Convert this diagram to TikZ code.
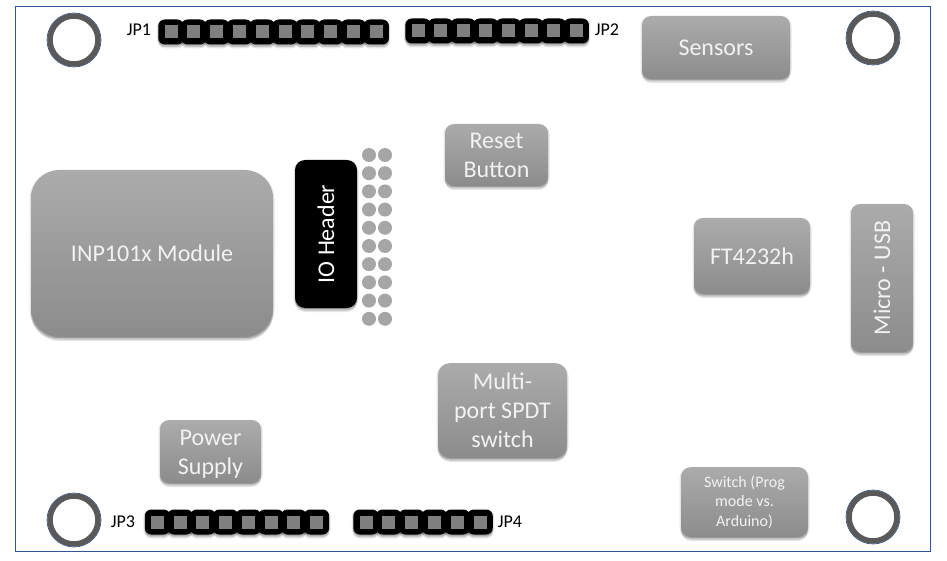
\documentclass[tikz,border=0pt]{standalone}
\usepackage{fontspec}
\usepackage{graphicx}
\setmainfont{Carlito}
\usetikzlibrary{shadows}
\definecolor{boardblue}{HTML}{2F5597}
\definecolor{holegray}{HTML}{595959}
\definecolor{boxtop}{HTML}{ABABAB}
\definecolor{boxbot}{HTML}{8C8C8C}
\definecolor{dotgray}{HTML}{A6A6A6}
\definecolor{pingray}{HTML}{7F7F7F}
\tikzset{
  softdrop/.style={
    general shadow={shadow xshift=-1.5pt, shadow yshift=-1pt, fill=black, opacity=.10},
    general shadow={shadow xshift=1.5pt, shadow yshift=-1pt, fill=black, opacity=.10},
    general shadow={shadow xshift=0pt, shadow yshift=-4pt, fill=black, opacity=.10},
    general shadow={shadow xshift=0pt, shadow yshift=-2.5pt, fill=black, opacity=.15}},
  block/.style={rounded corners=9pt, top color=boxtop, bottom color=boxbot, text=white!95!black,
    align=center, inner sep=0pt, font=\fontsize{24}{29}\selectfont, softdrop},
  padbox/.style={fill=black, rounded corners=6.5pt, minimum width=25.5pt, minimum height=25pt, inner sep=0pt, softdrop},
  pinbox/.style={fill=pingray, minimum size=13pt, inner sep=0pt},
  hole/.style={circle, draw=holegray, line width=5.5pt, fill=white, minimum size=48pt, inner sep=0pt},
  rim/.style={circle, draw=boardblue, line width=.7pt, minimum size=54pt, inner sep=0pt},
  dot/.style={circle, fill=dotgray, minimum size=14pt, inner sep=0pt},
  jplabel/.style={font=\fontsize{18}{20}\selectfont, inner sep=0pt}
}
\begin{document}
\begin{tikzpicture}[x=1pt, y=-1pt]
  \useasboundingbox (0,0) rectangle (947,561);

  \node[draw=boardblue, line width=1pt, minimum width=915pt, minimum height=544pt, inner sep=0pt] (board) at (472.5,279) {};

  % mounting holes
  \foreach \name/\X/\Y in {hnw/74/40, hne/873/38, hsw/74/520, hse/873/517} {
    \node[rim] (\name r) at (\X,\Y) {};
    \node[hole] (\name) at (\X,\Y) {};
  }

  % headers
  \foreach \i in {0,...,9} {
    \node[padbox] (ja\i) at (171+22.8*\i,32) {};
  }
  \foreach \i in {0,...,9} {
    \node[pinbox] (pa\i) at (ja\i) {};
  }
  \foreach \i in {0,...,7} {
    \node[padbox] (jb\i) at (418+22.6*\i,31) {};
  }
  \foreach \i in {0,...,7} {
    \node[pinbox] (pb\i) at (jb\i) {};
  }
  \foreach \i in {0,...,7} {
    \node[padbox] (jc\i) at (157.5+22.7*\i,522) {};
  }
  \foreach \i in {0,...,7} {
    \node[pinbox] (pc\i) at (jc\i) {};
  }
  \foreach \i in {0,...,5} {
    \node[padbox] (jd\i) at (366+22.8*\i,522) {};
  }
  \foreach \i in {0,...,5} {
    \node[pinbox] (pd\i) at (jd\i) {};
  }

  \node[jplabel] (jp1) at (139,30) {JP1};
  \node[jplabel] (jp2) at (607,30) {JP2};
  \node[jplabel] (jp3) at (123,522) {JP3};
  \node[jplabel] (jp4) at (510,522) {JP4};

  % IO header dots
  \foreach \i in {0,...,9} {
    \node[dot] (dl\i) at (369,155+18.2*\i) {};
    \node[dot] (dr\i) at (385,155+18.2*\i) {};
  }

  \node[block, rounded corners=28pt, minimum width=242pt, minimum height=167pt] (module) at (152,253.5) {INP101x Module};
  \node[block, rounded corners=10pt, top color=black, bottom color=black, text=white, minimum width=62pt, minimum height=148pt] (ioheader) at (326,234) {\rotatebox{90}{IO Header}};
  \node[block, minimum width=148pt, minimum height=63pt] (sensors) at (716,47.5) {Sensors};
  \node[block, minimum width=103pt, minimum height=62pt] (reset) at (496.5,155) {Reset\\Button};
  \node[block, minimum width=116pt, minimum height=76pt] (ft) at (752,256) {FT4232h};
  \node[block, minimum width=62pt, minimum height=148pt] (usb) at (882,278) {\rotatebox{90}{Micro - USB}};
  \node[block, rounded corners=12pt, minimum width=129pt, minimum height=95pt] (spdt) at (502.5,410.5) {Multi-\\port SPDT\\switch};
  \node[block, minimum width=101pt, minimum height=63pt] (power) at (210.5,451.5) {\rule{0pt}{21pt}Power\\Supply};
  \node[block, rounded corners=10pt, minimum width=127pt, minimum height=70pt, font=\fontsize{16}{19.5}\selectfont] (switch) at (744.5,502) {Switch (Prog\\mode vs.\\Arduino)};
\end{tikzpicture}
\end{document}
